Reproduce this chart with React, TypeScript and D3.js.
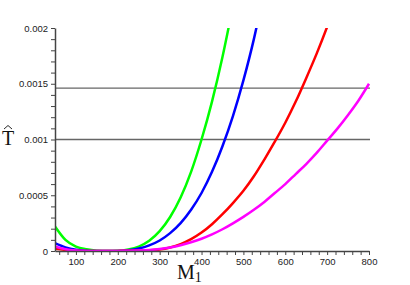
import React, { useRef, useEffect } from 'react';
import * as d3 from 'd3';

// M1 grid shared by all series
const masses = [
  50, 75, 100, 125, 150, 175, 200, 225, 250, 275, 300, 325, 350, 375, 400, 425,
  450, 475, 500, 525, 550, 575, 600, 625, 650, 675, 700, 725, 750, 775, 800,
];

const greenVals = [
  0.00022, 0.0001, 0.00004, 0.000015, 0.000003, 0, 0.000002, 0.000014, 0.00004,
  0.000092, 0.000178, 0.000305, 0.00048, 0.00071, 0.001, 0.00134, 0.00174,
  0.0022, 0.0027,
];
const blueVals = [
  0.00007, 0.000033, 0.000012, 0.000003, 0, 0, 0.000001, 0.000007, 0.000022,
  0.00005, 0.000094, 0.00016, 0.00025, 0.00037, 0.00052, 0.00071, 0.00094,
  0.00121, 0.00153, 0.0019, 0.00234,
];
const redVals = [
  0.00002, 0.00001, 0.000003, 0, 0, 0, 0.000001, 0.000002, 0.000004, 0.000007,
  0.000014, 0.000032, 0.000062, 0.000106, 0.000165, 0.00024, 0.00033, 0.00043,
  0.00054, 0.00067, 0.00082, 0.00098, 0.00115, 0.00134, 0.00155, 0.00177,
  0.00201, 0.00227,
];
const magentaVals = [
  0.00004, 0.000015, 0.000004, 0.000001, 0, 0, 0.000001, 0.000002, 0.000004,
  0.000009, 0.000018, 0.000032, 0.000052, 0.000078, 0.00011, 0.000149, 0.000195,
  0.000248, 0.000306, 0.00037, 0.00044, 0.00052, 0.0006, 0.00069, 0.00078,
  0.00088, 0.00099, 0.0011, 0.00122, 0.00135, 0.0015,
];

const seriesColors = ['#00ff00', '#0000ff', '#ff0000', '#ff00ff'];
const refLines = [0.001, 0.00146];
const yTickLabels = [0, 0.0005, 0.001, 0.0015, 0.002];
const xTickLabels = [100, 200, 300, 400, 500, 600, 700, 800];

const App = () => {
  const svgRef = useRef(null);

  useEffect(() => {
    const w = 410;
    const h = 285;
    const left = 55;
    const right = 369;
    const top = 28;
    const bottom = 251;

    const svg = d3.select(svgRef.current).attr('width', w).attr('height', h);
    svg.selectAll('*').remove();

    const x = d3.scaleLinear().domain([50, 800]).range([left, right]);
    const y = d3.scaleLinear().domain([0, 0.002]).range([bottom, top]);

    svg
      .append('defs')
      .append('clipPath')
      .attr('id', 'plot-clip')
      .append('rect')
      .attr('x', left)
      .attr('y', top)
      .attr('width', right - left + 2)
      .attr('height', bottom - top);

    // reference lines
    svg
      .selectAll('.ref')
      .data(refLines)
      .join('line')
      .attr('x1', left)
      .attr('x2', right + 1)
      .attr('y1', (d) => y(d))
      .attr('y2', (d) => y(d))
      .attr('stroke', '#666')
      .attr('stroke-width', 1.3);

    // curves
    const line = d3
      .line()
      .x((d) => x(d[0]))
      .y((d) => y(d[1]))
      .curve(d3.curveMonotoneX);

    const all = [greenVals, blueVals, redVals, magentaVals];
    all.forEach((vals, i) => {
      const pts = vals.map((v, j) => [masses[j], v]);
      svg
        .append('path')
        .attr('d', line(pts))
        .attr('fill', 'none')
        .attr('stroke', seriesColors[i])
        .attr('stroke-width', 2.5)
        .attr('clip-path', 'url(#plot-clip)');
    });

    // axes
    const yAxis = d3
      .axisLeft(y)
      .tickValues(d3.range(0, 21).map((k) => k * 0.0001))
      .tickSize(4)
      .tickSizeOuter(0)
      .tickFormat((d) =>
        yTickLabels.some((t) => Math.abs(t - d) < 1e-9) ? String(+d.toFixed(4)) : ''
      );
    const xAxis = d3
      .axisBottom(x)
      .tickValues(d3.range(60, 801, 20))
      .tickSize(4)
      .tickSizeOuter(0)
      .tickFormat((d) => (xTickLabels.includes(d) ? String(d) : ''));

    const gy = svg.append('g').attr('transform', `translate(${left},0)`).call(yAxis);
    const gx = svg.append('g').attr('transform', `translate(0,${bottom})`).call(xAxis);

    [gx, gy].forEach((g) => {
      g.select('.domain').attr('stroke', '#444').attr('stroke-width', 1.5);
      g.selectAll('.tick line').attr('stroke', '#444').attr('stroke-width', 1);
      g.selectAll('.tick text')
        .attr('fill', '#222')
        .style('font-family', 'Liberation Sans, Arial, sans-serif')
        .style('font-size', '9.5px');
    });
    gy.selectAll('.tick text').attr('x', -7);
    gx.selectAll('.tick text').attr('y', 7);

    // axis titles
    const serif = 'Liberation Serif, Times New Roman, serif';
    const xt = svg
      .append('text')
      .attr('x', 177)
      .attr('y', 279)
      .style('font-family', serif)
      .style('font-size', '20px')
      .attr('fill', '#111');
    xt.append('tspan').text('M');
    xt.append('tspan').attr('dy', 3).style('font-size', '14px').text('1');

    svg
      .append('text')
      .attr('x', 2)
      .attr('y', 145)
      .style('font-family', serif)
      .style('font-size', '20px')
      .attr('fill', '#111')
      .text('T');
    // hat over T
    svg
      .append('path')
      .attr('d', 'M4,129 L8,125.5 L12,129')
      .attr('fill', 'none')
      .attr('stroke', '#111')
      .attr('stroke-width', 0.9);
  }, []);

  return (
    <svg
      ref={svgRef}
      style={{ position: 'absolute', left: 0, top: 0, background: '#fff' }}
    ></svg>
  );
};

export default App;
